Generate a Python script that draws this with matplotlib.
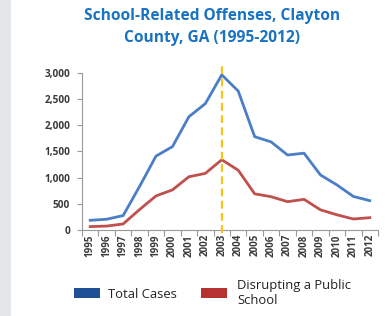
import matplotlib
matplotlib.use("Agg")
import matplotlib.pyplot as plt
from matplotlib.patches import Rectangle

years = [str(y) for y in range(1995, 2013)]
total_cases = [185, 205, 275, 830, 1410, 1590, 2160, 2410, 2960, 2650, 1780, 1680, 1430, 1465, 1050, 860, 640, 560]
disrupting = [65, 75, 115, 390, 650, 765, 1015, 1080, 1340, 1140, 690, 635, 540, 585, 385, 290, 210, 235]
yticks = [0, 500, 1000, 1500, 2000, 2500, 3000]
ytick_labels = ["0", "500", "1,000", "1,500", "2,000", "2,500", "3,000"]
title = "School-Related Offenses, Clayton\nCounty, GA (1995-2012)"
legend_labels = ["Total Cases", "Disrupting a Public\nSchool"]
highlight_year = "2003"

W, H = 387, 316
fig = plt.figure(figsize=(W / 100, H / 100), dpi=100)
fig.patch.set_facecolor("white")
fig.add_artist(Rectangle((0, 0), 11 / W, 1, transform=fig.transFigure,
                         facecolor="#e4e7ea", edgecolor="none", zorder=0))

ax = fig.add_axes([82 / W, 1 - 230 / H, (378 - 82) / W, (230 - 72.7) / H])
x = list(range(len(years)))
ax.plot(x, total_cases, color="#4a7ec6", lw=2.0, solid_joinstyle="round", zorder=3)
ax.plot(x, disrupting, color="#c0504d", lw=2.0, solid_joinstyle="round", zorder=3)
hx = years.index(highlight_year)
ax.axvline(hx, ymin=-0.02, ymax=1.06, color="#f5c518", lw=1.6, ls=(0, (3.5, 2)),
           clip_on=False, zorder=4)

ax.set_xlim(-0.5, len(years) - 0.5)
ax.set_ylim(0, 3000)
ax.set_yticks(yticks)
ax.set_yticklabels(ytick_labels, fontsize=7.2, fontweight="bold", family="Open Sans",
                   color="#3a3a3a")
ax.set_xticks(x)
ax.set_xticklabels(years, rotation=90, fontsize=7.0, fontweight="bold",
                   family="Open Sans", color="#3a3a3a")
ax.set_xticks([i - 0.5 for i in range(len(years) + 1)], minor=True)
ax.tick_params(axis="x", which="major", length=0, pad=3)
ax.tick_params(axis="x", which="minor", length=4, color="#999999", width=0.8, direction="out")
ax.tick_params(axis="y", length=3.5, color="#999999", width=0.8, pad=5)
for s in ["top", "right"]:
    ax.spines[s].set_visible(False)
for s in ["left", "bottom"]:
    ax.spines[s].set_color("#999999")
    ax.spines[s].set_linewidth(0.8)

fig.text(212 / W, 1 - 27 / H, title, ha="center", va="center", fontsize=11.2,
         fontweight="bold", color="#1a73c2", family="Open Sans", linespacing=1.45)

# legend
fig.add_artist(Rectangle((74 / W, 1 - 298 / H), 26 / W, 10 / H, transform=fig.transFigure,
                         facecolor="#1c5196", edgecolor="none"))
fig.text(108 / W, 1 - 294 / H, legend_labels[0], ha="left", va="center", fontsize=9.4,
         color="#222222", family="Open Sans")
fig.add_artist(Rectangle((201 / W, 1 - 298 / H), 26 / W, 10 / H, transform=fig.transFigure,
                         facecolor="#b73332", edgecolor="none"))
fig.text(237 / W, 1 - 293 / H, legend_labels[1], ha="left", va="center", fontsize=9.4,
         color="#222222", family="Open Sans", linespacing=1.3)

fig.savefig("out.png", dpi=100)
